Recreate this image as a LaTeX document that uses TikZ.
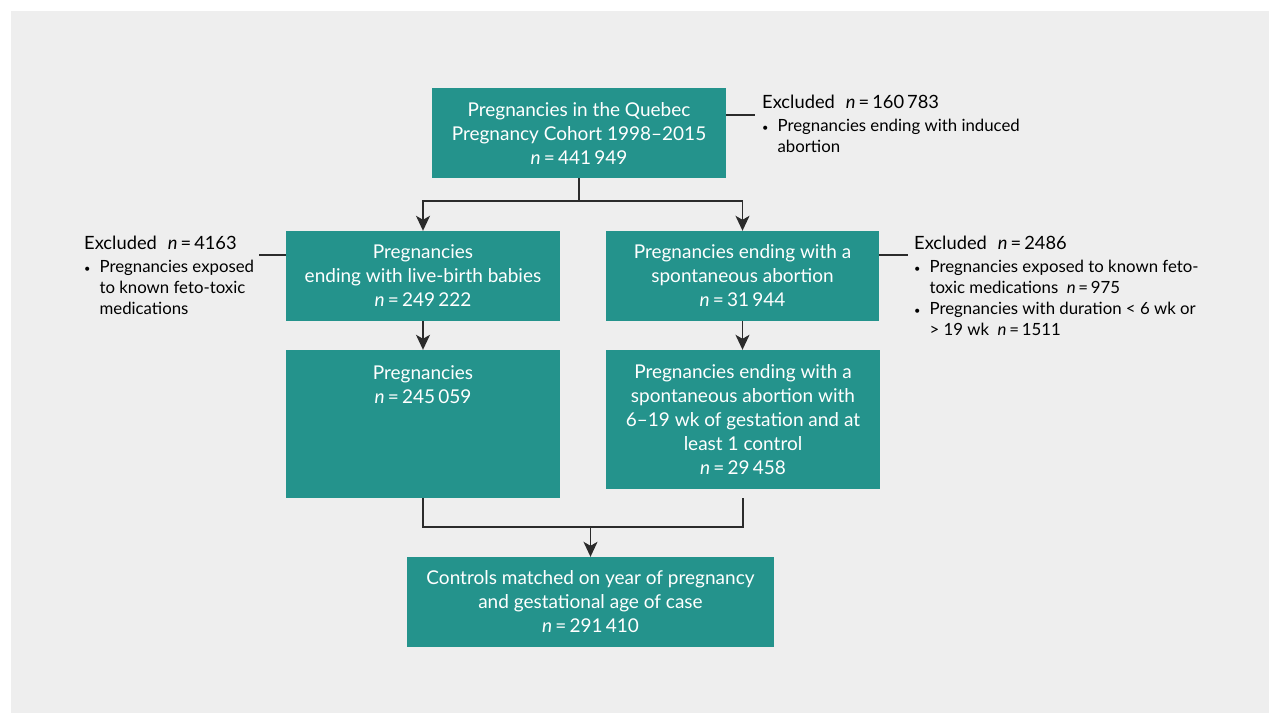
\documentclass[tikz,border=0pt]{standalone}
\usepackage{fontspec}
\setmainfont{Lato}
\usetikzlibrary{arrows.meta,calc}
\definecolor{tealbox}{HTML}{24938C}
\definecolor{bggray}{HTML}{EEEEEE}
\definecolor{linec}{HTML}{2B2B2B}
\newcommand{\nn}{\textit{n}\,=\,}
\newcommand{\bul}{{\fontsize{11}{11}\selectfont\textbullet}}
\begin{document}
\begin{tikzpicture}[x=1pt,y=-1pt,
  box/.style={fill=tealbox, inner sep=0pt},
  boxtext/.style={text=white, inner sep=0pt, align=center, font=\fontsize{19}{24}\selectfont},
  excl/.style={anchor=base west, inner sep=0pt, text=black, font=\fontsize{16.8}{21}\selectfont},
  conn/.style={draw=linec, line width=1.6pt},
  arr/.style={conn, -{Stealth[length=15pt,width=14pt,inset=4pt]}}]
\useasboundingbox (0,0) rectangle (1280,724);
\fill[white] (0,0) rectangle (1280,724);
\fill[bggray] (11,11) rectangle (1269,713);

% boxes
\node[box, minimum width=294pt, minimum height=90pt] (top) at (579,133) {};
\node[boxtext] (toptx) at (top.center) {Pregnancies in the Quebec\\Pregnancy Cohort 1998--2015\\\nn441\,949};

\node[box, minimum width=274pt, minimum height=90pt] (lb1) at (423,276) {};
\node[boxtext] (lb1tx) at (lb1.center) {Pregnancies\\ending with live-birth babies\\\nn249\,222};

\node[box, minimum width=273pt, minimum height=90pt] (sa1) at (742.5,276) {};
\node[boxtext] (sa1tx) at (sa1.center) {Pregnancies ending with a\\spontaneous abortion\\\nn31\,944};

\node[box, minimum width=274pt, minimum height=148pt] (lb2) at (423,424) {};
\node[boxtext] (lb2tx) at (423,385) {Pregnancies\\\nn245\,059};

\node[box, minimum width=274pt, minimum height=139pt] (sa2) at (743,419.5) {};
\node[boxtext] (sa2tx) at (sa2.center) {Pregnancies ending with a\\spontaneous abortion with\\6--19 wk of gestation and at\\least 1 control\\\nn29\,458};

\node[box, minimum width=367pt, minimum height=90pt] (ctrl) at (590.5,602) {};
\node[boxtext] (ctrltx) at (ctrl.center) {Controls matched on year of pregnancy\\and gestational age of case\\\nn291\,410};

% exclusion notes
\node[excl] (ex1) at (762,108) {\begin{tabular}[t]{@{}l@{\hspace{9pt}}l@{}}
\multicolumn{2}{@{}l}{\fontsize{18.3}{21}\selectfont Excluded\hspace{0.6em}\nn160\,783}\\[2pt]
\bul & Pregnancies ending with induced\\
 & abortion
\end{tabular}};

\node[excl] (ex2) at (84,249) {\begin{tabular}[t]{@{}l@{\hspace{9pt}}l@{}}
\multicolumn{2}{@{}l}{\fontsize{18.3}{21}\selectfont Excluded\hspace{0.6em}\nn4163}\\[2pt]
\bul & Pregnancies exposed\\
 & to known feto-toxic\\
 & medications
\end{tabular}};

\node[excl] (ex3) at (914,249) {\begin{tabular}[t]{@{}l@{\hspace{9pt}}l@{}}
\multicolumn{2}{@{}l}{\fontsize{18.3}{21}\selectfont Excluded\hspace{0.6em}\nn2486}\\[2pt]
\bul & Pregnancies exposed to known feto-\\
 & toxic medications\hspace{0.5em}\nn975\\
\bul & Pregnancies with duration < 6 wk or\\
 & > 19 wk\hspace{0.5em}\nn1511
\end{tabular}};

% exclusion connectors
\coordinate (e1) at (755,115);
\coordinate (e2) at (259,255);
\coordinate (e3) at (908,255);
\draw[conn] (top.east |- e1) -- (e1);
\draw[conn] (lb1.west |- e2) -- (e2);
\draw[conn] (sa1.east |- e3) -- (e3);

% flow connectors
\coordinate (j1) at (579,201);
\draw[conn] (top.south) -- (j1);
\draw[arr] (j1) -| (lb1.north);
\draw[arr] (j1) -| (sa1.north);
\draw[arr] (lb1.south) -- (lb2.north);
\draw[arr] (sa1.south) -- (sa1.south |- sa2.north);

\coordinate (j2) at (590.5,527);
\coordinate (s2) at (743,498);
\draw[conn] (lb2.south) |- (j2);
\draw[conn] (s2) |- (j2);
\draw[arr] (j2) -- (ctrl.north);
\end{tikzpicture}
\end{document}
